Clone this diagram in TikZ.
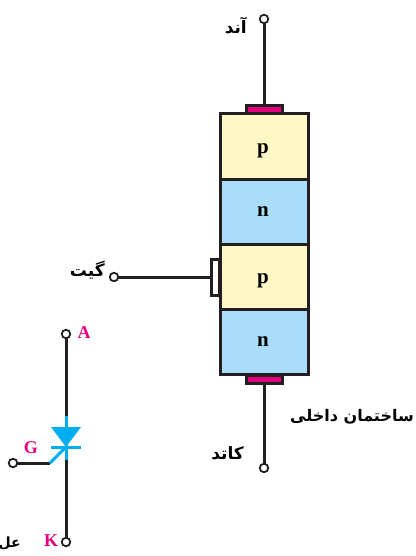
\documentclass[tikz,border=0pt]{standalone}
\usepackage{fontspec}
\setmainfont{Liberation Serif}
\newfontfamily\arabicfont[Script=Arabic]{DejaVu Sans}
\TeXXeTstate=1
\definecolor{inkdark}{HTML}{231F20}
\definecolor{layerp}{HTML}{FFF8C6}
\definecolor{layern}{HTML}{A9DDF9}
\definecolor{capred}{HTML}{E6007E}
\definecolor{symcyan}{HTML}{00AEEF}
\newcommand{\fa}[1]{{\arabicfont\bfseries\beginR #1\endR}}
\tikzset{
  lead/.style={line width=3pt, color=inkdark},
  layer/.style={draw=inkdark, line width=3pt, minimum width=88pt, minimum height=65pt, inner sep=0pt, outer sep=0pt},
  dope/.style={font=\bfseries\fontsize{21}{21}\selectfont, inner sep=0pt},
  contact/.style={draw=inkdark, fill=capred, line width=3pt, minimum width=36pt, minimum height=8pt, inner sep=0pt, outer sep=0pt},
  gatetab/.style={contact, fill=white, minimum width=8pt, minimum height=36pt},
  term/.style={circle, draw=inkdark, fill=white, line width=1.8pt, minimum size=8.5pt, inner sep=0pt, outer sep=0pt},
  pin/.style={font=\bfseries\fontsize{18}{18}\selectfont, text=capred, inner sep=0pt},
  farsi/.style={font=\fontsize{17}{20}\selectfont, inner sep=0pt, anchor=east},
  sym/.style={line width=3pt, color=symcyan}
}
\begin{document}
\begin{tikzpicture}[x=1pt, y=-1pt]
\useasboundingbox (0,0) rectangle (415,556);

% layers
\node[layer, fill=layerp] (pTop) at (264,146.5) {};
\node[layer, fill=layern] (nTop) at (264,211.5) {};
\node[layer, fill=layerp] (pLow) at (264,276.5) {};
\node[layer, fill=layern] (nLow) at (264,341.5) {};
\node[dope] (txtP) at (263,151) {p};
\node[dope] (txtN) at (263,212) {n};
\node[dope] (txtQ) at (263,281) {p};
\node[dope] (txtM) at (263,342) {n};

% contacts
\node[contact] (capA) at (264,109.5) {};
\node[contact] (capK) at (264,379) {};
\node[gatetab] (capG) at (215,277) {};

\node[term] (anode) at (264,19) {};
\node[term] (cathode) at (264,468) {};
\node[term] (gate) at (114,277) {};
\draw[lead] (anode) -- (capA);
\draw[lead] (cathode) -- (capK);
\draw[lead] (gate) -- (capG);

\node[farsi] (lblA) at (247,26) {\fa{آند}};
\node[farsi] (lblG) at (105,270) {\fa{گیت}};
\node[farsi] (lblK) at (244,453) {\fa{کاتد}};
\node[farsi, font=\fontsize{16}{20}\selectfont] (lblS) at (414,417) {\fa{ساختمان داخلی}};

% symbol
\node[term] (symA) at (66,334) {};
\node[term] (symK) at (66,542) {};
\node[term] (symG) at (13,463) {};
\coordinate (symTop) at (66,416);
\coordinate (symApex) at (66,447);
\coordinate (symLow) at (66,460);
\coordinate (symBend) at (50,463);

\draw[lead] (symA) -- (symTop);
\draw[lead] (symLow) -- (symK);
\draw[lead] (symG) -- (symBend);
\draw[sym] (symTop) -- (symLow);
\fill[symcyan] (51,427) -- (81,427) -- (symApex) -- cycle;
\draw[sym] (51,447) -- (81,447);
\draw[sym] (symBend) -- (symApex);

\node[pin] (pinA) at (84,333) {A};
\node[pin] (pinG) at (31,448) {G};
\node[pin] (pinK) at (51,541) {K};
\node[farsi, font=\fontsize{14}{18}\selectfont] (lblSym) at (21,543) {\fa{عل}};
\end{tikzpicture}
\end{document}
